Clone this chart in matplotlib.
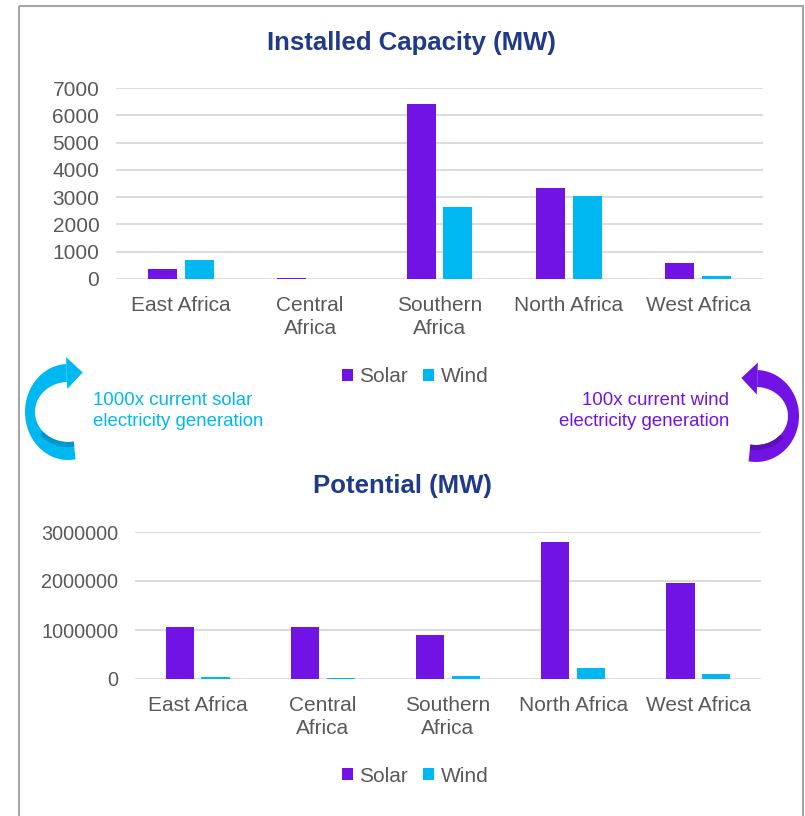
import numpy as np
import matplotlib.pyplot as plt
from matplotlib.patches import Rectangle, Polygon

plt.rcParams['font.family'] = ['Liberation Sans', 'DejaVu Sans']

regions = ["East Africa", "Central\nAfrica", "Southern\nAfrica", "North Africa", "West Africa"]

# installed capacity (MW)
installed_solar = [375, 30, 6400, 3330, 590]
installed_wind = [680, 0, 2650, 3030, 100]

# potential (MW)
potential_solar = [1070000, 1055000, 905000, 2790000, 1950000]
potential_wind = [35000, 28000, 55000, 215000, 97000]

SOLAR = "#7213E6"
WIND = "#00B8F1"
TITLE = "#1F3A8A"
GREY = "#595959"
GRID = "#D9D9D9"

W, H = 805, 816
fig = plt.figure(figsize=(W / 100, H / 100), dpi=100)


def px_axes(x0, x1, ytop, ybot):
    return fig.add_axes([x0 / W, 1 - ybot / H, (x1 - x0) / W, (ybot - ytop) / H])


def bar_panel(ax, solar, wind, ymax, yticks, title, title_x, title_y, leg_y, ysize):
    x = np.arange(len(regions))
    bw = 0.225
    gap = 0.06
    ax.bar(x - (bw + gap) / 2, solar, bw, color=SOLAR, label="Solar", zorder=3)
    ax.bar(x + (bw + gap) / 2, wind, bw, color=WIND, label="Wind", zorder=3)
    ax.set_xlim(-0.5, len(regions) - 0.5)
    ax.set_ylim(0, ymax)
    ax.set_yticks(yticks)
    ax.set_yticklabels([f"{v:d}" for v in yticks])
    ax.set_xticks(x)
    ax.set_xticklabels(regions, linespacing=1.27)
    ax.yaxis.grid(True, color=GRID, lw=1.3, zorder=0)
    ax.set_axisbelow(True)
    for s in ax.spines.values():
        s.set_visible(False)
    ax.tick_params(axis="both", length=0, colors=GREY, labelsize=15)
    ax.tick_params(axis="y", pad=12, labelsize=ysize)
    ax.tick_params(axis="x", pad=12)
    fig.text(title_x / W, 1 - title_y / H, title,
             ha="center", va="center", fontsize=18.5, fontweight="bold", color=TITLE)
    fig.legend(handles=ax.get_legend_handles_labels()[0], labels=["Solar", "Wind"],
               loc="center", bbox_to_anchor=(415 / W, 1 - leg_y / H), ncol=2, frameon=False,
               fontsize=15, labelcolor=GREY, handlelength=0.55, handleheight=0.55,
               handletextpad=0.3, columnspacing=0.7)


ax1 = px_axes(116, 763, 88, 279)
bar_panel(ax1, installed_solar, installed_wind, 7000, list(range(0, 7001, 1000)),
          "Installed Capacity (MW)", 411, 43, 377, 15)

ax2 = px_axes(135, 761, 532, 679)
bar_panel(ax2, potential_solar, potential_wind, 3000000, [0, 1000000, 2000000, 3000000],
          "Potential (MW)", 402, 486, 776, 14.3)

# overlay in pixel units for the frame and the curved arrows
ov = fig.add_axes([0, 0, 1, 1], facecolor="none")
ov.set_xlim(0, W)
ov.set_ylim(H, 0)
ov.axis("off")

ov.add_patch(Rectangle((19, 6), 803 - 19, H, fill=False, ec="#A6A6A6", lw=1.5))


def ell_band(cx, cy, a, b, wx, wy, t0, t1, n=60):
    t = np.radians(np.linspace(t0, t1, n))
    outer = np.c_[cx + a * np.cos(t), cy + b * np.sin(t)]
    inner = np.c_[cx + (a - wx) * np.cos(t), cy + (b - wy) * np.sin(t)]
    return np.vstack([outer, inner[::-1]])


def curved_arrow(cx, cy, a, b, wx, wy, t_tail, t_head, color, dark, dark_to):
    ov.add_patch(Polygon(ell_band(cx, cy, a, b, wx, wy, t_tail, t_head), closed=True,
                         color=color, lw=0))
    # darker band on the inside of the tail, gives the 3d look
    ov.add_patch(Polygon(ell_band(cx, cy, a - wx + 4, b - wy + 5, 4, 5, t_tail, dark_to),
                         closed=True, color=dark, lw=0))
    # arrow head, pointing along the tangent at the end of the arc
    th = np.radians(t_head)
    am, bm = a - wx / 2, b - wy / 2
    base = np.array([cx + am * np.cos(th), cy + bm * np.sin(th)])
    sgn = 1 if t_head > t_tail else -1
    tang = sgn * np.array([-am * np.sin(th), bm * np.cos(th)])
    tang /= np.hypot(*tang)
    nrm = np.array([-tang[1], tang[0]])
    hw, hl = 16, 16
    pts = [base + hw * nrm, base + hl * tang, base - hw * nrm]
    ov.add_patch(Polygon(pts, closed=True, color=color, lw=0))


curved_arrow(68, 412, 43, 48, 10, 18, 80, 268, WIND, "#0096CC", 140)
curved_arrow(756, 416, 43, 46, 11, 17, 100, -88, SOLAR, "#5A0FB8", 40)

fig.text(93 / W, 1 - 411 / H, "1000x current solar\nelectricity generation", ha="left",
         va="center", fontsize=13.4, color=WIND, linespacing=1.25)
fig.text(729 / W, 1 - 411 / H, "100x current wind\nelectricity generation", ha="right",
         va="center", fontsize=13.4, color=SOLAR, linespacing=1.25, multialignment="right")

fig.savefig("out.png", dpi=100)
